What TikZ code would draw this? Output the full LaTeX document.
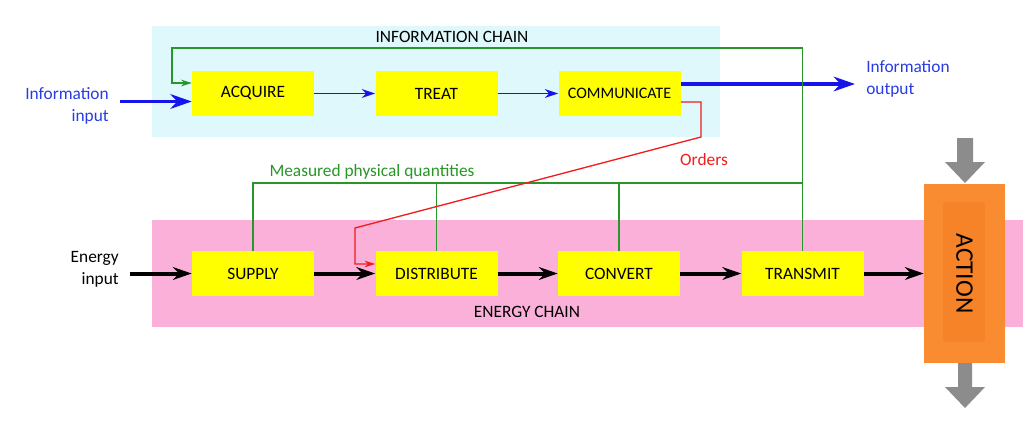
\documentclass[tikz,border=0pt]{standalone}
\usepackage{fontspec}
\setmainfont{Carlito}
\usetikzlibrary{arrows.meta,calc}
\definecolor{infobg}{RGB}{222,248,251}
\definecolor{energybg}{RGB}{250,176,216}
\definecolor{boxyellow}{RGB}{255,255,0}
\definecolor{actout}{RGB}{249,140,48}
\definecolor{actin}{RGB}{246,131,40}
\definecolor{mgreen}{RGB}{40,150,40}
\definecolor{mred}{RGB}{240,30,30}
\definecolor{mblue}{RGB}{20,20,235}
\definecolor{tblue}{RGB}{40,60,230}
\definecolor{agray}{RGB}{140,140,140}
\tikzset{
  fnt/.style={font={\fontsize{13}{16.5}\selectfont}},
  stepbox/.style={fill=boxyellow, minimum width=91.5pt, minimum height=33.75pt, inner sep=0pt, fnt},
  thinblue/.style={mblue, line width=1.3pt, -{Stealth[length=10pt,width=6.5pt]}},
  thickblue/.style={mblue, line width=2.8pt, -{Stealth[length=16pt,width=11pt]}},
  thickblack/.style={black, line width=3pt, -{Stealth[length=14pt,width=9.5pt]}},
  greenline/.style={mgreen, line width=0.9pt},
  redline/.style={mred, line width=1pt},
}
\begin{document}
\begin{tikzpicture}[x=0.75pt,y=-0.75pt]
\useasboundingbox[fill=white] (0,0) rectangle (1023,429);
% backgrounds
\fill[infobg] (152,26) rectangle (720,137);
\fill[energybg] (152,220) rectangle (1023,327);
% boxes
\node[stepbox] (acq) at (253,93.5) {ACQUIRE};
\node[stepbox] (treat) at (436.5,93.5) {TREAT};
\node[stepbox, font={\fontsize{12}{14}\selectfont}] (comm) at (619.5,93.5) {COMMUNICATE};
\node[stepbox] (sup) at (253,273.5) {SUPPLY};
\node[stepbox] (dist) at (436.5,273.5) {DISTRIBUTE};
\node[stepbox] (conv) at (619,273.5) {CONVERT};
\node[stepbox] (trans) at (802.5,273.5) {TRANSMIT};
% action
\node[fill=actout, minimum width=60.75pt, minimum height=134.25pt, inner sep=0pt] (act) at (964.5,273.5) {};
\fill[actin] (943,202) rectangle (985,342);
\node[rotate=-90, font={\fontsize{19}{22}\selectfont}] (acttxt) at (act.center) {ACTION};
% gray arrows
\fill[agray] (957,138) -- (973,138) -- (973,162) -- (985,162) -- (965,183) -- (945,162) -- (957,162) -- cycle;
\fill[agray] (958,363) -- (972,363) -- (972,387) -- (985,387) -- (965,408) -- (945,387) -- (958,387) -- cycle;
% texts
\node[fnt] (ichain) at (452,37) {INFORMATION CHAIN};
\node[fnt] (echain) at (527,312) {ENERGY CHAIN};
\node[fnt, tblue, align=right, anchor=east, inner sep=0pt] (iin) at (109,106) {Information\\input};
\node[fnt, tblue, align=left, anchor=west, inner sep=0pt] (iout) at (866,79) {Information\\output};
\node[fnt, align=right, anchor=east, inner sep=0pt] (ein) at (119,269) {Energy\\input};
\node[fnt, mred] (orders) at (704,160) {Orders};
\node[fnt, mgreen] (meas) at (372,172) {Measured physical quantities};
% coordinates
\coordinate (iinstart) at (120,101.5);
\coordinate (ioutend) at (855,84);
\coordinate (einstart) at (130,273.5);
\coordinate (loopL) at (172,48);
\coordinate (mline) at (0,183);
\coordinate (rA) at (701,137);
\coordinate (rB) at (355,228);
% information chain arrows
\draw[thickblue] (iinstart) -- ($(acq.west)+(0,8)$);
\draw[thinblue] (acq) -- (treat);
\draw[thinblue] (treat) -- (comm);
\draw[thickblue] ($(comm.east)+(0,-9.5)$) -- (ioutend);
% energy chain arrows
\draw[thickblack] (einstart) -- (sup.west);
\draw[thickblack] (sup) -- (dist);
\draw[thickblack] (dist) -- (conv);
\draw[thickblack] (conv) -- (trans);
\draw[thickblack] (trans) -- (act);
% green feedback
\draw[greenline, -{Stealth[length=8pt,width=5pt]}] (trans.north) |- (loopL) |- ($(acq.west)+(0,-10.5)$);
\draw[greenline] (sup.north) |- (trans.north |- mline);
\draw[greenline] (dist.north) -- (dist.north |- mline);
\draw[greenline] (conv.north) -- (conv.north |- mline);
% red orders
\draw[redline, -{Stealth[length=8pt,width=5pt]}] ($(comm.east)+(0,8.5)$) -| (rA) -- (rB) |- ($(dist.west)+(0,-9.5)$);
\end{tikzpicture}
\end{document}
